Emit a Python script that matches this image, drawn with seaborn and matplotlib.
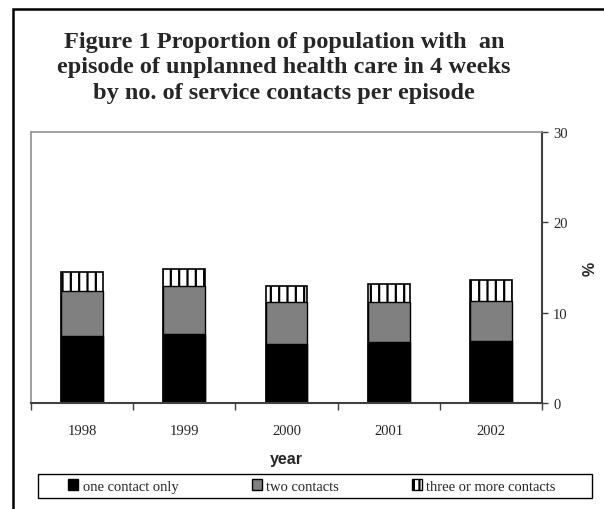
import pandas as pd
import seaborn as sns
import matplotlib.pyplot as plt
from matplotlib.patches import Patch, Rectangle

years = ['1998', '1999', '2000', '2001', '2002']
one_contact = [7.4, 7.6, 6.5, 6.7, 6.9]
two_contacts = [5.0, 5.4, 4.7, 4.5, 4.4]
three_plus = [2.1, 1.8, 1.8, 1.95, 2.3]
series_labels = ['one contact only', 'two contacts', 'three or more contacts']

df = pd.DataFrame({'year': years, 'one': one_contact,
                   'two': two_contacts, 'three': three_plus})
df['cum2'] = df['one'] + df['two']
df['cum3'] = df['cum2'] + df['three']

sns.set_style("white")
plt.rcParams['hatch.linewidth'] = 1.6
serif = 'Liberation Serif'
sans = 'Liberation Sans'

fig = plt.figure(figsize=(6.04, 5.10), dpi=100)
ax = fig.add_axes([31/604, 1-404/510, (542-31)/604, (404-133)/510])

# stacked bars: draw cumulative totals back to front
sns.barplot(x='year', y='cum3', data=df, color='white', edgecolor='black',
            linewidth=1.2, hatch='||', width=0.41, ax=ax)
sns.barplot(x='year', y='cum2', data=df, color='#808080', edgecolor='black',
            linewidth=1.0, width=0.41, ax=ax)
sns.barplot(x='year', y='one', data=df, color='black', edgecolor='black',
            linewidth=1.0, width=0.41, ax=ax)
for p in ax.patches:
    if p.get_hatch():
        p.set_facecolor('white')

ax.set_ylim(0, 30)
ax.set_xlim(-0.5, 4.5)
ax.yaxis.tick_right()
ax.set_yticks([0, 10, 20, 30])
ax.set_yticklabels(['0', '10', '20', '30'], fontsize=10.5, family=serif)
ax.set_xticks(range(len(years)))
ax.set_xticklabels(years, fontsize=10.5, family=serif)
ax.tick_params(axis='x', length=0, pad=15)
ax.tick_params(axis='y', right=True, left=False, length=4, width=1,
               color='#404040', pad=4, direction='out')
# category boundary ticks on the x axis
ax.set_xticks([i - 0.5 for i in range(len(years) + 1)], minor=True)
ax.tick_params(axis='x', which='minor', bottom=True, length=5, width=1,
               color='#404040', direction='out')

for side in ['top', 'left']:
    ax.spines[side].set_color('#909090')
    ax.spines[side].set_linewidth(1.2)
for side in ['right', 'bottom']:
    ax.spines[side].set_color('#404040')
    ax.spines[side].set_linewidth(1.5)

ax.set_xlabel('year', fontsize=11.5, fontweight='bold', family=sans, labelpad=10)
ax.set_ylabel('%', fontsize=11.5, fontweight='bold', family=sans)
ax.yaxis.set_label_position('right')
ax.yaxis.set_label_coords((583-31)/(542-31), 0.5)

fig.text(284/604, 1-68/510,
         'Figure 1 Proportion of population with  an\n'
         'episode of unplanned health care in 4 weeks\n'
         'by no. of service contacts per episode',
         ha='center', va='center', fontsize=17.5, fontweight='bold',
         family=serif, linespacing=1.3)

# legend box
fig.patches.append(Rectangle((38/604, 1-499/510), (592-38)/604, 24/510,
                             transform=fig.transFigure, facecolor='white',
                             edgecolor='black', linewidth=1.0))
handles = [Patch(facecolor='black', edgecolor='black'),
           Patch(facecolor='#808080', edgecolor='black'),
           Patch(facecolor='white', edgecolor='black', hatch='|||')]
leg = fig.legend(handles, series_labels, loc='center', ncol=3,
                 bbox_to_anchor=(312/604, 1-487/510),
                 prop={'family': serif, 'size': 10.5}, handlelength=0.7,
                 handleheight=0.7, handletextpad=0.3, columnspacing=5.0,
                 borderaxespad=0, frameon=False)

# outer frame (left and top edges visible)
fig.patches.append(Rectangle((13/604, -0.1), 1.2, 1-10/510 + 0.1,
                             transform=fig.transFigure, fill=False,
                             edgecolor='black', linewidth=1.8))

plt.savefig('out.png', dpi=100)
